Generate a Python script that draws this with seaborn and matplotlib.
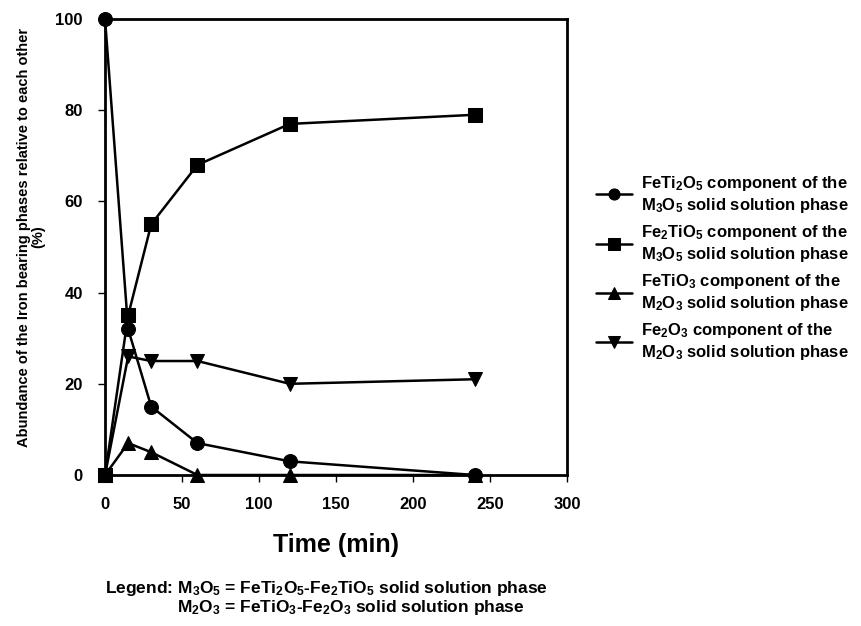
import matplotlib
matplotlib.use("Agg")
import matplotlib.pyplot as plt
import seaborn as sns
import pandas as pd
import numpy as np

sns.set_theme(style="white")
plt.rcParams['font.family'] = ['Liberation Sans', 'DejaVu Sans']
plt.rcParams['font.weight'] = 'bold'
plt.rcParams['mathtext.fontset'] = 'custom'
plt.rcParams['mathtext.rm'] = 'Liberation Sans:bold'
plt.rcParams['mathtext.it'] = 'Liberation Sans:bold'
plt.rcParams['mathtext.bf'] = 'Liberation Sans:bold'
plt.rcParams['text.color'] = 'black'
plt.rcParams['axes.labelcolor'] = 'black'
plt.rcParams['xtick.color'] = 'black'
plt.rcParams['ytick.color'] = 'black'

time = [0, 15, 30, 60, 120, 240]
feti2o5 = [100, 32, 15, 7, 3, 0]
fe2tio5 = [0, 35, 55, 68, 77, 79]
fetio3 = [0, 7, 5, 0, 0, 0]
fe2o3 = [0, 26, 25, 25, 20, 21]

labels = [
    "FeTi$_2$O$_5$ component of the\nM$_3$O$_5$ solid solution phase",
    "Fe$_2$TiO$_5$ component of the\nM$_3$O$_5$ solid solution phase",
    "FeTiO$_3$ component of the\nM$_2$O$_3$ solid solution phase",
    "Fe$_2$O$_3$ component of the\nM$_2$O$_3$ solid solution phase",
]
series = [feti2o5, fe2tio5, fetio3, fe2o3]
markers = ['o', 's', '^', 'v']

rows = []
for lab, vals in zip(labels, series):
    for t, v in zip(time, vals):
        rows.append({"time": t, "value": v, "series": lab})
df = pd.DataFrame(rows)

fig = plt.figure(figsize=(8.61, 6.26), dpi=100)
ax = fig.add_axes([0.122, 0.2412, 0.5365, 0.7284])

sns.lineplot(data=df, x="time", y="value", hue="series", style="series",
             hue_order=labels, style_order=labels,
             palette=['black'] * 4, markers=markers, dashes=False,
             markersize=10, linewidth=1.8, markeredgecolor='black',
             ax=ax, legend=True)
for ln in ax.lines:
    ln.set_clip_on(False)

ax.set_xlim(0, 300)
ax.set_ylim(0, 100)
ax.set_xticks([0, 50, 100, 150, 200, 250, 300])
ax.set_yticks([0, 20, 40, 60, 80, 100])
ax.tick_params(axis='both', which='major', direction='out', length=5, width=1,
               labelsize=12, color='black', labelcolor='black',
               bottom=True, left=True, pad=11)
for lbl in ax.get_xticklabels() + ax.get_yticklabels():
    lbl.set_fontweight('bold')
for s in ax.spines.values():
    s.set_color('black')
    s.set_linewidth(2)
ax.set_xlabel("Time (min)", fontsize=18, fontweight='bold', labelpad=15, color='black')
ax.set_ylabel("Abundance of the Iron bearing phases relative to each other\n(%)",
              fontsize=10.5, fontweight='bold', linespacing=1.0, color='black')
ax.yaxis.set_label_coords(-0.13, 0.522)

handles, hl = ax.get_legend_handles_labels()
ax.legend_.remove()
leg = fig.legend(handles, hl, loc='center left', bbox_to_anchor=(0.692, 0.572),
                 frameon=False, handlelength=2.2, labelspacing=0.5, markerscale=0.8,
                 handletextpad=0.5, prop={'weight': 'bold', 'size': 12},
                 borderaxespad=0, borderpad=0)
for t in leg.get_texts():
    t.set_color('black')

fig.text(0.122, 0.0607, "Legend: M$_3$O$_5$ = FeTi$_2$O$_5$-Fe$_2$TiO$_5$ solid solution phase",
         ha='left', va='center', fontsize=12.5, fontweight='bold')
fig.text(0.2056, 0.0288, "M$_2$O$_3$ = FeTiO$_3$-Fe$_2$O$_3$ solid solution phase",
         ha='left', va='center', fontsize=12.5, fontweight='bold')

fig.savefig("out.png", dpi=100)
